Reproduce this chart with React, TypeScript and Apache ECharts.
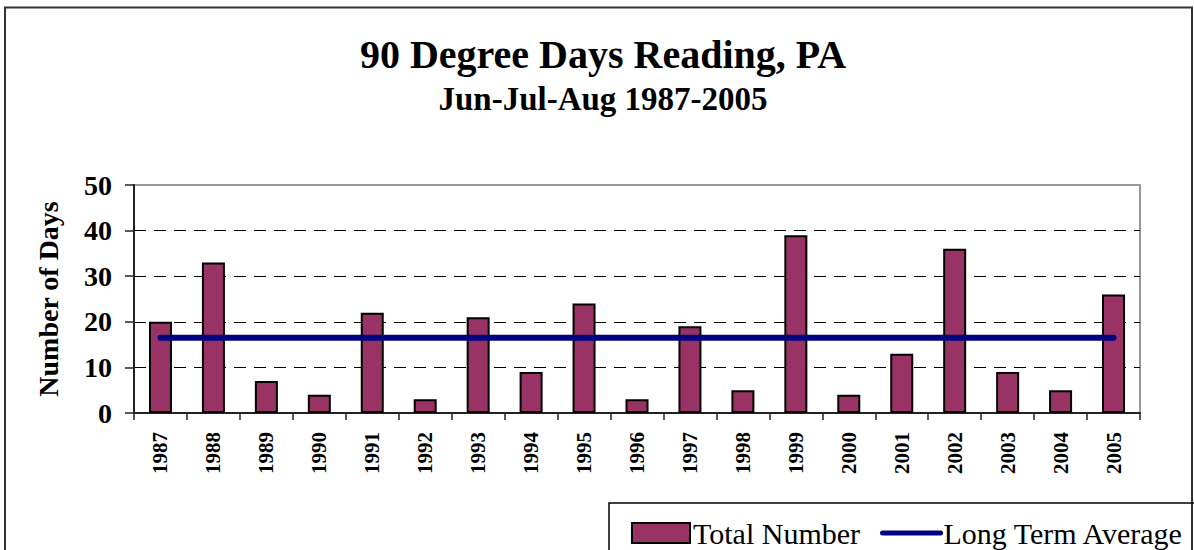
import React, { useEffect, useRef } from "react";
import * as echarts from "echarts";

const years = ["1987","1988","1989","1990","1991","1992","1993","1994","1995","1996","1997","1998","1999","2000","2001","2002","2003","2004","2005"];
const totalNumber = [20, 33, 7, 4, 22, 3, 21, 9, 24, 3, 19, 5, 39, 4, 13, 36, 9, 5, 26];
const longTermAverage = years.map(() => 16.5);
const yTicks = [0, 10, 20, 30, 40, 50];

const FONT = "'Liberation Serif', 'Times New Roman', serif";

export default function App() {
  const ref = useRef<HTMLDivElement>(null);
  useEffect(() => {
    if (!ref.current) return;
    const chart = echarts.init(ref.current, null, { renderer: "svg" });
    chart.setOption({
      animation: false,
      backgroundColor: "#fff",
      textStyle: { fontFamily: FONT },
      title: {
        text: "90 Degree Days Reading, PA",
        subtext: "Jun-Jul-Aug 1987-2005",
        left: 598,
        textAlign: "center",
        top: 29,
        itemGap: 8,
        textStyle: { fontFamily: FONT, fontSize: 40, fontWeight: "bold", color: "#000" },
        subtextStyle: { fontFamily: FONT, fontSize: 33, fontWeight: "bold", color: "#000" },
      },
      legend: {
        left: 626,
        top: 513,
        itemWidth: 58,
        itemHeight: 20,
        itemGap: 20,
        textStyle: { fontFamily: FONT, fontSize: 30, color: "#000", padding: [0, 0, 0, -2] },
        data: [
          { name: "Total Number", icon: "rect" },
          {
            name: "Long Term Average",
            itemStyle: { opacity: 0 },
            lineStyle: { width: 5, color: "#000080", cap: "round" },
          },
        ],
      },
      graphic: [
        {
          type: "rect",
          shape: { x: 5, y: 7.5, width: 1187, height: 600 },
          style: { fill: "none", stroke: "#333", lineWidth: 2 },
          silent: true,
        },
        {
          type: "rect",
          shape: { x: 609, y: 503, width: 700, height: 100 },
          style: { fill: "none", stroke: "#000", lineWidth: 1.5 },
          silent: true,
        },
      ],
      grid: {
        left: 134,
        right: 54,
        top: 185,
        bottom: 137,
        show: true,
        borderColor: "#999",
        borderWidth: 2,
        backgroundColor: "transparent",
      },
      xAxis: {
        type: "category",
        data: years,
        axisLine: { lineStyle: { color: "#222", width: 2 } },
        axisTick: { show: true, length: 7, lineStyle: { color: "#222", width: 1.5 } },
        axisLabel: {
          rotate: 90,
          margin: 19,
          fontFamily: FONT,
          fontSize: 21,
          fontWeight: "bold",
          color: "#000",
        },
      },
      yAxis: {
        type: "value",
        min: yTicks[0],
        max: yTicks[yTicks.length - 1],
        interval: 10,
        name: "Number of Days",
        nameLocation: "middle",
        nameRotate: 90,
        nameGap: 72,
        nameTextStyle: { fontFamily: FONT, fontSize: 28, fontWeight: "bold", color: "#000" },
        axisLine: { show: true, lineStyle: { color: "#222", width: 2 } },
        axisTick: { show: true, length: 9, lineStyle: { color: "#222", width: 1.5 } },
        axisLabel: {
          margin: 22,
          fontFamily: FONT,
          fontSize: 28,
          fontWeight: "bold",
          color: "#000",
        },
        splitLine: {
          show: true,
          lineStyle: {
            color: ["#000", "#000", "#000", "#000", "#000", "rgba(0,0,0,0)"],
            width: 1,
            type: [12, 8],
          },
        },
      },
      series: [
        {
          name: "Total Number",
          type: "bar",
          data: totalNumber,
          barWidth: 23,
          itemStyle: { color: "#993366", borderColor: "#000", borderWidth: 2 },
        },
        {
          name: "Long Term Average",
          type: "line",
          data: longTermAverage,
          symbol: "none",
          lineStyle: { color: "#000080", width: 6, cap: "round" },
          itemStyle: { color: "#000080" },
        },
      ],
    });
    return () => chart.dispose();
  }, []);
  return (
    <div
      ref={ref}
      style={{ position: "fixed", left: 0, top: 0, width: 1194, height: 550 }}
    />
  );
}
